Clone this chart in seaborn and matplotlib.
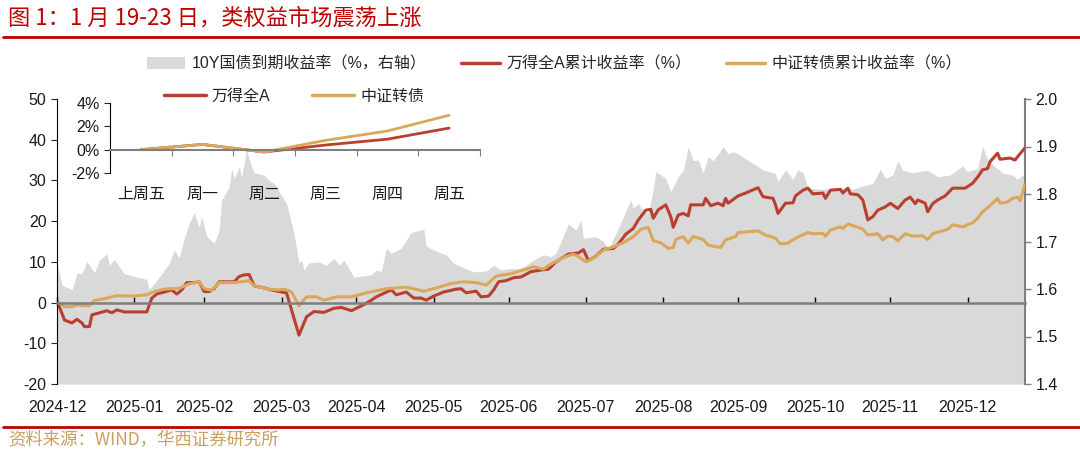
import numpy as np
import pandas as pd
import seaborn as sns
import matplotlib.pyplot as plt
from matplotlib.patches import Patch
from matplotlib.lines import Line2D

sns.set_style('ticks')
plt.rcParams['font.family'] = ['Liberation Sans', 'Noto Sans CJK SC']
plt.rcParams['axes.unicode_minus'] = False

## Data (x = calendar days after 2024-12-31)
start = pd.Timestamp('2024-12-31')
end_day = 388

# 万得全A累计收益率（%）
wind_day = [0, 3, 6, 8, 10, 11, 13, 14, 16, 20, 22, 24, 27, 31, 36, 38, 40, 43, 46, 48,
            50, 52, 55, 57, 59, 61, 63, 65, 71, 73, 75, 77, 79, 83, 86, 90, 92, 94, 97, 99,
            100, 103, 107, 111, 114, 118, 122, 125, 128, 130, 134, 136, 140, 143, 146, 148, 151, 155, 160, 162,
            164, 168, 170, 173, 175, 177, 180, 183, 186, 190, 194, 197, 200, 205, 209, 211, 213, 216, 219, 223,
            225, 228, 231, 233, 236, 238, 239, 241, 244, 246, 247, 249, 251, 253, 254, 259, 260, 262, 265, 267,
            268, 269, 273, 276, 281, 283, 287, 288, 289, 292, 295, 296, 299, 301, 303, 307, 308, 310, 314, 315,
            317, 318, 321, 323, 325, 327, 329, 332, 334, 337, 340, 342, 344, 345, 348, 349, 351, 353, 356, 359,
            364, 367, 369, 371, 373, 374, 377, 378, 382, 384, 385, 388]
wind_val = [0.5, -4.3, -5.0, -4.1, -5.0, -5.9, -5.9, -3.0, -2.7, -2.0, -2.5, -1.8, -2.3, -2.3, -2.3, 1.1, 2.1, 2.6, 3.1, 2.1,
            3.1, 4.9, 4.9, 5.1, 2.7, 2.7, 3.4, 5.1, 5.1, 6.4, 6.8, 6.9, 4.1, 3.6, 3.1, 2.6, 2.4, -1.8, -8.0, -5.0,
            -3.5, -2.2, -2.4, -1.4, -1.2, -2.0, -0.8, 0.2, 1.4, 2.0, 3.1, 1.9, 2.6, 1.1, 1.1, 0.6, 1.6, 2.6, 3.3, 3.4,
            2.4, 2.8, 1.4, 1.6, 3.1, 5.1, 5.4, 6.1, 6.3, 7.6, 8.0, 8.2, 10.0, 11.9, 12.2, 13.0, 10.3, 11.4, 13.1, 13.3,
            14.4, 16.8, 18.2, 20.3, 22.7, 22.9, 20.7, 22.8, 24.0, 21.1, 18.5, 21.5, 21.9, 21.3, 24.0, 24.0, 25.6, 23.8, 24.4, 23.8,
            25.6, 24.4, 26.2, 26.9, 28.2, 26.0, 25.6, 24.0, 21.9, 24.4, 24.5, 26.2, 27.6, 28.1, 26.7, 26.9, 25.6, 27.6, 27.8, 26.9,
            28.1, 26.7, 26.5, 25.2, 20.3, 21.1, 22.7, 23.5, 24.4, 23.1, 25.2, 25.9, 24.3, 25.2, 24.4, 22.3, 24.3, 25.2, 26.2, 28.1,
            28.1, 29.3, 30.8, 32.6, 32.9, 34.6, 36.7, 35.2, 35.5, 35.0, 35.8, 38.0]

# 中证转债累计收益率（%）
cb_day = [0, 3, 6, 8, 13, 15, 20, 24, 30, 36, 39, 43, 49, 53, 57, 59, 62, 65, 71, 77,
          79, 85, 89, 91, 94, 97, 100, 104, 107, 112, 118, 124, 132, 140, 147, 152, 158, 163, 168, 172,
          176, 182, 189, 191, 195, 198, 204, 207, 209, 212, 216, 219, 223, 227, 231, 234, 237, 239, 242, 245,
          247, 248, 251, 253, 255, 259, 261, 266, 268, 272, 273, 281, 284, 288, 290, 293, 296, 301, 303, 307,
          308, 310, 314, 315, 317, 321, 323, 325, 329, 331, 333, 335, 337, 340, 343, 347, 349, 351, 357, 359,
          363, 367, 369, 371, 374, 377, 378, 381, 383, 385, 386, 388]
cb_val = [0.3, -1.0, -1.0, -0.6, -0.8, 0.5, 1.1, 1.7, 1.6, 1.9, 2.7, 3.3, 3.5, 4.6, 5.1, 3.4, 3.0, 4.9, 4.9, 5.4,
          4.1, 3.3, 3.1, 3.3, 2.6, -0.8, 1.4, 1.4, 0.6, 1.4, 1.4, 2.4, 3.4, 3.8, 2.8, 3.6, 4.7, 5.1, 4.9, 4.3,
          6.5, 7.1, 8.4, 8.8, 8.2, 9.5, 11.3, 11.9, 11.3, 10.0, 11.3, 12.9, 13.7, 14.7, 16.2, 18.0, 18.5, 15.2, 14.7, 13.3,
          13.5, 15.5, 16.2, 14.6, 16.2, 15.5, 14.1, 13.5, 15.4, 16.2, 17.2, 17.6, 16.6, 15.8, 14.4, 14.6, 15.8, 17.2, 16.9, 17.0,
          16.3, 17.8, 18.6, 18.2, 19.3, 18.5, 18.0, 16.6, 16.9, 15.4, 16.3, 16.2, 15.2, 16.9, 16.3, 16.4, 15.5, 16.9, 18.0, 19.1,
          18.6, 19.6, 20.7, 22.3, 23.8, 25.6, 24.4, 24.7, 25.6, 25.9, 25.0, 29.0]

# 10Y国债到期收益率（%，右轴）
y10_day = [0, 2, 6, 7, 8, 10, 12, 15, 17, 20, 21, 23, 27, 36, 37, 41, 45, 47, 49, 51,
           53, 55, 57, 58, 60, 63, 65, 66, 69, 70, 71, 73, 74, 76, 78, 79, 83, 85, 87, 92,
           95, 97, 98, 99, 101, 105, 108, 111, 113, 115, 119, 126, 128, 130, 132, 134, 138, 142, 147, 148,
           154, 156, 159, 162, 167, 172, 175, 178, 181, 186, 191, 195, 198, 200, 205, 208, 210, 211, 216, 219,
           221, 225, 227, 230, 231, 233, 234, 237, 239, 240, 244, 246, 249, 251, 252, 253, 255, 257, 259, 261,
           263, 265, 267, 269, 271, 273, 283, 288, 289, 292, 295, 297, 299, 301, 307, 314, 319, 323, 327, 330,
           332, 335, 337, 339, 343, 349, 353, 358, 363, 365, 369, 371, 373, 376, 379, 383, 385, 387, 388]
y10_val = [1.654, 1.608, 1.599, 1.615, 1.634, 1.632, 1.658, 1.634, 1.661, 1.674, 1.650, 1.662, 1.632, 1.620, 1.599, 1.625, 1.654, 1.682, 1.665, 1.707,
           1.738, 1.761, 1.730, 1.752, 1.711, 1.696, 1.724, 1.787, 1.815, 1.854, 1.833, 1.857, 1.836, 1.893, 1.857, 1.845, 1.840, 1.829, 1.822, 1.780,
           1.717, 1.654, 1.661, 1.640, 1.655, 1.657, 1.650, 1.665, 1.650, 1.661, 1.625, 1.630, 1.640, 1.637, 1.686, 1.675, 1.686, 1.719, 1.726, 1.690,
           1.675, 1.672, 1.654, 1.647, 1.636, 1.638, 1.650, 1.640, 1.643, 1.643, 1.661, 1.672, 1.668, 1.675, 1.737, 1.724, 1.745, 1.707, 1.710, 1.700,
           1.684, 1.728, 1.752, 1.787, 1.771, 1.780, 1.771, 1.759, 1.810, 1.847, 1.833, 1.805, 1.836, 1.850, 1.872, 1.900, 1.870, 1.872, 1.844, 1.879,
           1.870, 1.884, 1.900, 1.884, 1.889, 1.884, 1.851, 1.843, 1.826, 1.851, 1.831, 1.851, 1.845, 1.812, 1.810, 1.814, 1.810, 1.817, 1.822, 1.852,
           1.833, 1.840, 1.870, 1.850, 1.845, 1.850, 1.836, 1.840, 1.859, 1.847, 1.854, 1.900, 1.872, 1.858, 1.844, 1.840, 1.831, 1.840, 1.833]

# inset: 本周表现（%）
week_cats = ['上周五', '周一', '周二', '周三', '周四', '周五']
week_wind = [0.0, 0.45, -0.2, 0.4, 0.9, 1.85]
week_cb = [0.0, 0.45, -0.2, 0.8, 1.6, 2.95]

RED = '#B94030'
GOLD = '#D9A85B'
GRAY = '#D9D9D9'

wind = pd.DataFrame({'date': start + pd.to_timedelta(wind_day, unit='D'), 'val': wind_val})
cb = pd.DataFrame({'date': start + pd.to_timedelta(cb_day, unit='D'), 'val': cb_val})
y10 = pd.DataFrame({'date': start + pd.to_timedelta(y10_day, unit='D'), 'val': y10_val})
week = pd.DataFrame({'day': week_cats, 'wind': week_wind, 'cb': week_cb})

month_ends = pd.date_range(start, periods=13, freq=pd.offsets.MonthEnd())

## Figure
W, H = 1080, 450
fig = plt.figure(figsize=(W / 100, H / 100), dpi=100)

ax = fig.add_axes([57 / W, 1 - 384 / H, (1025 - 57) / W, (384 - 99) / H])
ax2 = ax.twinx()
ax2.fill_between(y10['date'], 1.4, y10['val'], color=GRAY, lw=0)
ax.set_zorder(ax2.get_zorder() + 1)
ax.patch.set_visible(False)

sns.lineplot(data=wind, x='date', y='val', ax=ax, color=RED, lw=2.2)
sns.lineplot(data=cb, x='date', y='val', ax=ax, color=GOLD, lw=2.2)

ax.set_xlim(start, start + pd.Timedelta(days=end_day))
ax.set_ylim(-20, 50)
ax.set_yticks(range(-20, 51, 10))
ax2.set_ylim(1.4, 2.0)
ax2.set_yticks(np.round(np.arange(1.4, 2.01, 0.1), 1))
ax2.set_yticklabels([f'{v:.1f}' for v in np.arange(1.4, 2.01, 0.1)])
ax.set_xticks(month_ends)
ax.set_xticklabels([d.strftime('%Y-%m') for d in month_ends])
ax.set_xlabel('')
ax.set_ylabel('')

for s in ['top', 'right']:
    ax.spines[s].set_visible(False)
ax.spines['bottom'].set_position(('data', 0))
ax.spines['bottom'].set_color('#7F7F7F')
ax.spines['bottom'].set_linewidth(1.8)
ax.spines['left'].set_color('black')
ax.spines['left'].set_linewidth(0.8)
ax.tick_params(axis='x', direction='in', length=4, width=1, color='black', pad=70,
               labelsize=11.5, labelcolor='#1a1a1a')
ax.tick_params(axis='y', direction='out', length=4, width=0.8, labelsize=11.5, labelcolor='#1a1a1a')

for s in ['top', 'left', 'bottom']:
    ax2.spines[s].set_visible(False)
ax2.spines['right'].set_color('#7F7F7F')
ax2.spines['right'].set_linewidth(1.5)
ax2.tick_params(axis='y', direction='out', length=4, width=1, color='#7F7F7F',
                labelsize=11.5, labelcolor='#1a1a1a')

## Inset: weekly performance
axi = fig.add_axes([110 / W, 1 - 173 / H, 370 / W, 70 / H])
axi.set_zorder(ax.get_zorder() + 1)
axi.patch.set_visible(False)
sns.lineplot(data=week, x='day', y='wind', ax=axi, color=RED, lw=2, sort=False)
sns.lineplot(data=week, x='day', y='cb', ax=axi, color=GOLD, lw=2, sort=False)
axi.set_xlim(-0.5, 5.5)
axi.set_ylim(-2, 4)
axi.set_yticks([-2, 0, 2, 4])
axi.set_yticklabels([f'{v}%' for v in [-2, 0, 2, 4]])
axi.set_xticks(np.arange(0.5, 6, 1))
axi.set_xticklabels([])
axi.set_xticks(range(len(week_cats)), minor=True)
axi.set_xticklabels(week_cats, minor=True)
axi.set_xlabel('')
axi.set_ylabel('')
for s in ['top', 'right']:
    axi.spines[s].set_visible(False)
axi.spines['bottom'].set_position(('data', 0))
axi.spines['bottom'].set_color('#7F7F7F')
axi.spines['bottom'].set_linewidth(1.5)
axi.spines['left'].set_color('black')
axi.spines['left'].set_linewidth(0.8)
axi.tick_params(axis='x', which='major', direction='out', length=4, color='#7F7F7F')
axi.tick_params(axis='x', which='minor', length=0, pad=27, labelsize=11.5, labelcolor='#1a1a1a')
axi.tick_params(axis='y', direction='out', length=4, width=0.8, labelsize=11.5, labelcolor='#1a1a1a')

## Legends
h1 = [Patch(facecolor=GRAY, edgecolor='none'),
      Line2D([], [], color=RED, lw=2.5),
      Line2D([], [], color=GOLD, lw=2.5)]
l1 = ['10Y国债到期收益率（%，右轴）', '万得全A累计收益率（%）', '中证转债累计收益率（%）']
fig.legend(h1, l1, loc='center', bbox_to_anchor=(554 / W, 1 - 64 / H), ncol=3, frameon=False,
           fontsize=11.5, handlelength=2.4, handletextpad=0.4, columnspacing=2.2)

h2 = [Line2D([], [], color=RED, lw=2.5), Line2D([], [], color=GOLD, lw=2.5)]
fig.legend(h2, ['万得全A', '中证转债'], loc='center', bbox_to_anchor=(294 / W, 1 - 96 / H), ncol=2,
           frameon=False, fontsize=11.5, handlelength=2.6, handletextpad=0.4, columnspacing=2.6)

## Title, rules and source
fig.text(8 / W, 1 - 18 / H, '图 1：1 月 19-23 日，类权益市场震荡上涨', color='#C00000', fontsize=16,
         va='center', ha='left', family=['Noto Sans CJK SC', 'DejaVu Sans'])
fig.add_artist(Line2D([3 / W, 1], [1 - 37 / H] * 2, color='#C00000', lw=2, transform=fig.transFigure))
fig.add_artist(Line2D([3 / W, 1], [1 - 427 / H] * 2, color='#C00000', lw=2, transform=fig.transFigure))
fig.text(8 / W, 1 - 440 / H, '资料来源：WIND，华西证券研究所', color='#C8A060', fontsize=12.5,
         va='center', ha='left', family=['Noto Sans CJK SC', 'DejaVu Sans'])

fig.savefig('out.png', dpi=100)
